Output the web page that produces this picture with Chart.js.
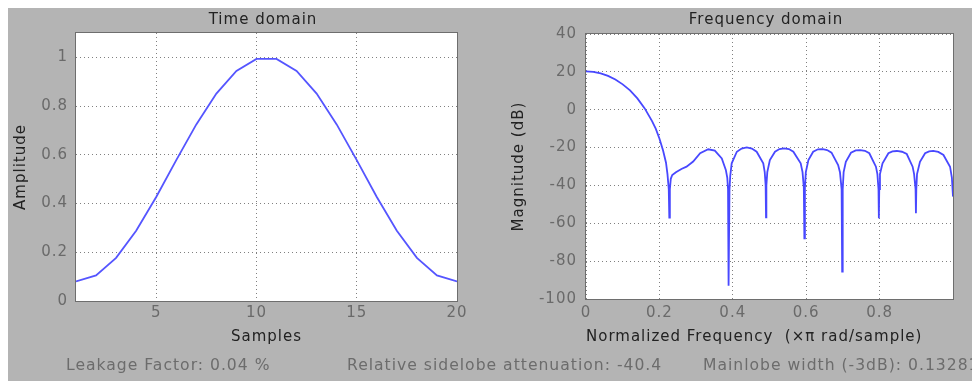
<!DOCTYPE html>
<html><head><meta charset="utf-8">
<script src="https://cdn.jsdelivr.net/npm/chart.js@4.4.1/dist/chart.umd.min.js"></script>
<style>
html,body{margin:0;padding:0;width:972px;height:381px;overflow:hidden;background:#fff;}
#panel{position:absolute;left:8px;top:8px;width:964px;height:373px;background:#b4b4b4;}
canvas{position:absolute;top:0;}
.t{position:absolute;font-family:"DejaVu Sans",sans-serif;font-size:15px;letter-spacing:1px;white-space:nowrap;line-height:18px;}
.b{font-size:15.6px;}
</style></head><body>
<div id="panel"></div>
<canvas id="c1" width="480" height="381" style="left:0;width:480px;height:381px"></canvas>
<canvas id="c2" width="492" height="381" style="left:480px;width:492px;height:381px"></canvas>
<div class="t" style="left:263px;top:19px;transform:translate(-50%,-50%);color:#222">Time domain</div>
<div class="t" style="left:766px;top:19px;transform:translate(-50%,-50%);color:#222">Frequency domain</div>
<div class="t b" style="left:66px;top:356px;color:#6c6c6c">Leakage Factor: 0.04 %</div>
<div class="t b" style="left:347px;top:356px;color:#6c6c6c">Relative sidelobe attenuation: -40.4</div>
<div class="t b" style="left:703px;top:356px;color:#6c6c6c">Mainlobe width (-3dB): 0.13281</div>
<script>
// ---- data ----
const samples = [1,2,3,4,5,6,7,8,9,10,11,12,13,14,15,16,17,18,19,20];
const amplitude = [0.08,0.1049,0.177,0.2884,0.4271,0.578,0.7248,0.8515,0.9446,0.9937,
                   0.9937,0.9446,0.8515,0.7248,0.578,0.4271,0.2884,0.177,0.1049,0.08];
const freq = [0,0.02,0.04,0.06,0.08,0.10,0.12,0.14,0.16,0.18,0.19,0.20,0.21,0.218,0.222,0.2255,0.227,0.2285,0.231,0.235,
  0.245,0.26,0.274,0.292,0.311,0.333,0.351,0.370,0.381,0.385,0.387,0.388,0.389,0.391,0.393,0.397,0.411,0.424,0.438,0.452,
  0.465,0.483,0.487,0.4895,0.4905,0.4915,0.494,0.501,0.515,0.527,0.540,0.553,0.565,0.585,0.590,0.5935,0.595,0.5965,0.599,0.606,
  0.619,0.632,0.645,0.657,0.669,0.687,0.692,0.6965,0.698,0.6995,0.702,0.708,0.722,0.735,0.747,0.760,0.772,0.790,0.794,0.797,
  0.798,0.799,0.801,0.808,0.824,0.835,0.847,0.861,0.874,0.890,0.894,0.898,0.899,0.900,0.902,0.910,0.924,0.935,0.946,0.960,
  0.974,0.992,0.997,1.0];
const magnitudeDb = [20.3,20.0,19.25,17.9,16.0,13.4,10.2,6.0,0.7,-6.0,-10,-15.2,-21.6,-28,-34,-42,-57,-42,-36.5,-34.5,
  -33,-31.3,-30.1,-27.4,-23.0,-20.9,-21.6,-25.7,-31.8,-36,-42,-60,-93,-42,-35,-28.3,-22.2,-20.5,-19.9,-20.5,
  -22.2,-28.3,-33,-40,-56.8,-40,-33,-26.6,-22.2,-20.8,-20.4,-20.8,-22.2,-28.3,-33,-41,-67.9,-41,-33,-26.6,
  -22.2,-20.9,-20.8,-21.3,-22.7,-29.2,-33,-42,-85.5,-42,-33,-27.5,-22.7,-21.5,-21.3,-21.7,-23.0,-30.1,-34,-42,
  -57.4,-42,-34,-28.3,-23.0,-22.0,-21.8,-22.2,-23.4,-30.1,-34,-42,-54.7,-42,-34,-27.5,-23.0,-22.0,-21.8,-22.3,
  -23.9,-30.1,-36,-45.9];
const sampleTicks = [5,10,15,20];
const amplitudeTicks = [0,0.2,0.4,0.6,0.8,1];
const freqTicks = [0,0.2,0.4,0.6,0.8];
const magnitudeTicks = [-100,-80,-60,-40,-20,0,20,40];

// ---- styling ----
const FONT = '"DejaVu Sans", sans-serif';
const GRID = '#808080';
const TICK = '#6a6a6a';

const boxPlugin = {
  id: 'box',
  beforeLayout(chart){ chart.ctx.letterSpacing = '1px'; },
  beforeDraw(chart){
    const {ctx, chartArea: a} = chart;
    ctx.letterSpacing = '1px';
    ctx.save();
    ctx.fillStyle = '#ffffff';
    ctx.fillRect(a.left, a.top, a.right - a.left, a.bottom - a.top);
    ctx.restore();
  },
  afterDraw(chart){
    const {ctx, chartArea: a} = chart;
    ctx.save();
    ctx.strokeStyle = '#6e6e6e';
    ctx.lineWidth = 1;
    ctx.setLineDash([]);
    ctx.strokeRect(Math.round(a.left) - 0.5, Math.round(a.top) - 0.5, Math.round(a.right - a.left) + 1, Math.round(a.bottom - a.top) + 1);
    ctx.restore();
  }
};

function axis(o){
  return {
    type: 'linear', min: o.min, max: o.max,
    afterBuildTicks: s => { s.ticks = o.ticks.map(v => ({value: v})); },
    afterFit: s => { if (o.height) s.height = o.height; if (o.width) s.width = o.width; },
    grid: {color: GRID, lineWidth: 1, drawTicks: false},
    border: {display: false, dash: [1, 3]},
    ticks: {color: TICK, font: {family: FONT, size: 15}, padding: o.pad, autoSkip: false,
            maxRotation: 0, callback: v => String(v)},
    title: {display: true, text: o.title, color: '#222', font: {family: FONT, size: 15},
            padding: {top: 4, bottom: 4}, align: o.align || 'center'}
  };
}

function makeChart(id, xs, ys, color, padding, xAxis, yAxis){
  return new Chart(document.getElementById(id), {
    type: 'line',
    data: {datasets: [{data: xs.map((x, i) => ({x: x, y: ys[i]})), borderColor: color,
      borderWidth: 1.8, pointRadius: 0, tension: 0, fill: false}]},
    options: {
      responsive: false, animation: false, devicePixelRatio: 1,
      layout: {padding: padding},
      plugins: {legend: {display: false}, tooltip: {enabled: false}, title: {display: false}},
      scales: {x: xAxis, y: yAxis}
    },
    plugins: [boxPlugin]
  });
}

makeChart('c1', samples, amplitude, '#5555ff',
  {left: 8, top: 33, right: 23, bottom: 31},
  axis({min: 1, max: 20, ticks: sampleTicks, height: 49, pad: 3, title: 'Samples'}),
  axis({min: 0, max: 1.1, ticks: amplitudeTicks, width: 68, pad: 8, title: 'Amplitude'}));

makeChart('c2', freq, magnitudeDb, '#4848ff',
  {left: 26, top: 34, right: 19, bottom: 31},
  axis({min: 0, max: 1, ticks: freqTicks, height: 51, pad: 5, title: 'Normalized Frequency  (×π rad/sample)', align: 'start'}),
  axis({min: -100, max: 40, ticks: magnitudeTicks, width: 80, pad: 9, title: 'Magnitude (dB)'}));
</script>
</body></html>
